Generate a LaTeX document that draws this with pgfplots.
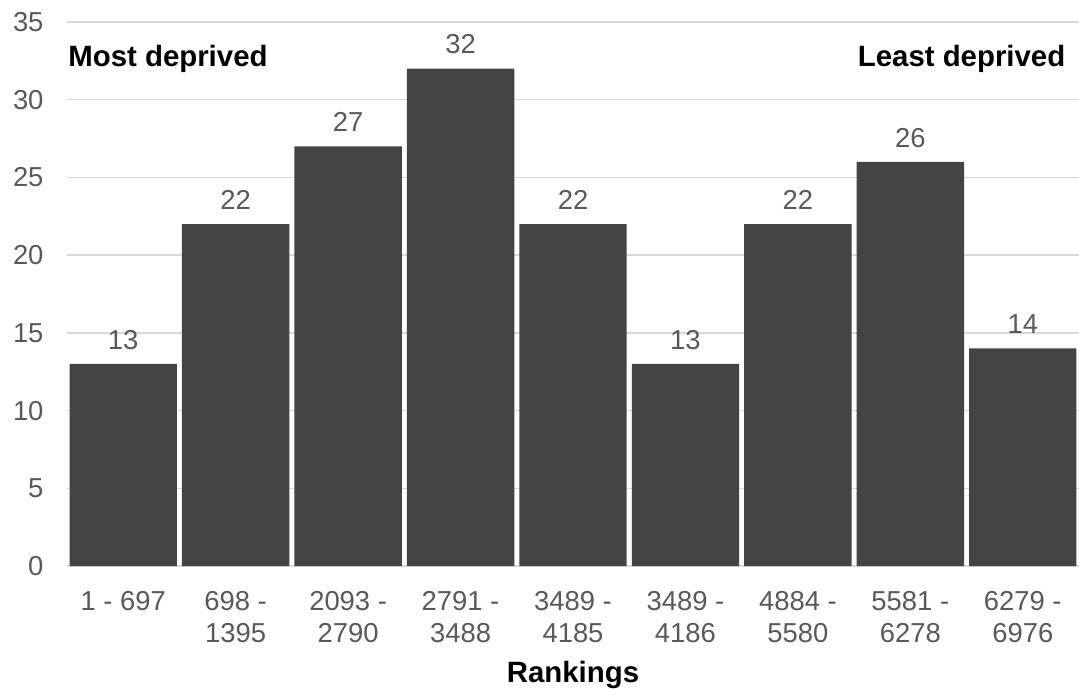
\documentclass[border=0pt]{standalone}
\usepackage{fontspec}
\setmainfont{Liberation Sans}
\usepackage{pgfplots}
\pgfplotsset{compat=1.18}
\definecolor{barcol}{HTML}{444444}
\definecolor{txtgray}{HTML}{595959}
\definecolor{gridc}{HTML}{D9D9D9}
\newcommand{\lblfont}{\fontsize{27.5}{31.5}\selectfont}
\newcommand{\boldfont}{\fontsize{29.5}{33}\selectfont\bfseries}
\begin{document}
\begin{tikzpicture}
\begin{axis}[
  scale only axis,
  width=1012bp, height=544bp,
  xmin=-0.5, xmax=8.5, ymin=0, ymax=35,
  ybar, bar width=0.955,
  xtick=data,
  xticklabels={1 - 697, 698 -\\1395, 2093 -\\2790, 2791 -\\3488, 3489 -\\4185,
               3489 -\\4186, 4884 -\\5580, 5581 -\\6278, 6279 -\\6976},
  ytick={0,5,...,35},
  major tick length=0pt,
  axis line style={draw=none},
  ymajorgrids, grid style={gridc, line width=1.5bp},
  /pgf/number format/assume math mode=true,
  tick label style={font=\lblfont, text=txtgray},
  yticklabel style={xshift=-20bp},
  xticklabel style={align=center, yshift=-22bp, text depth=0pt},
  xlabel={Rankings},
  xlabel style={font=\boldfont, text=black, yshift=-16bp, inner ysep=0pt},
  nodes near coords,
  nodes near coords style={font=\lblfont, text=txtgray, yshift=11bp},
]
\addplot[fill=barcol, draw=none] coordinates {
  (0,13) (1,22) (2,27) (3,32) (4,22) (5,13) (6,22) (7,26) (8,14)
};
\node[anchor=west, font=\boldfont, inner sep=0pt] at (axis cs:-0.49,32.6) {Most deprived};
\node[anchor=east, font=\boldfont, inner sep=0pt] at (axis cs:8.38,32.6) {Least deprived};
\end{axis}
\pgfresetboundingbox
\path ([shift={(-67bp,-122bp)}]current axis.south west) rectangle ([shift={(0bp,22bp)}]current axis.north east);
\end{tikzpicture}
\end{document}
